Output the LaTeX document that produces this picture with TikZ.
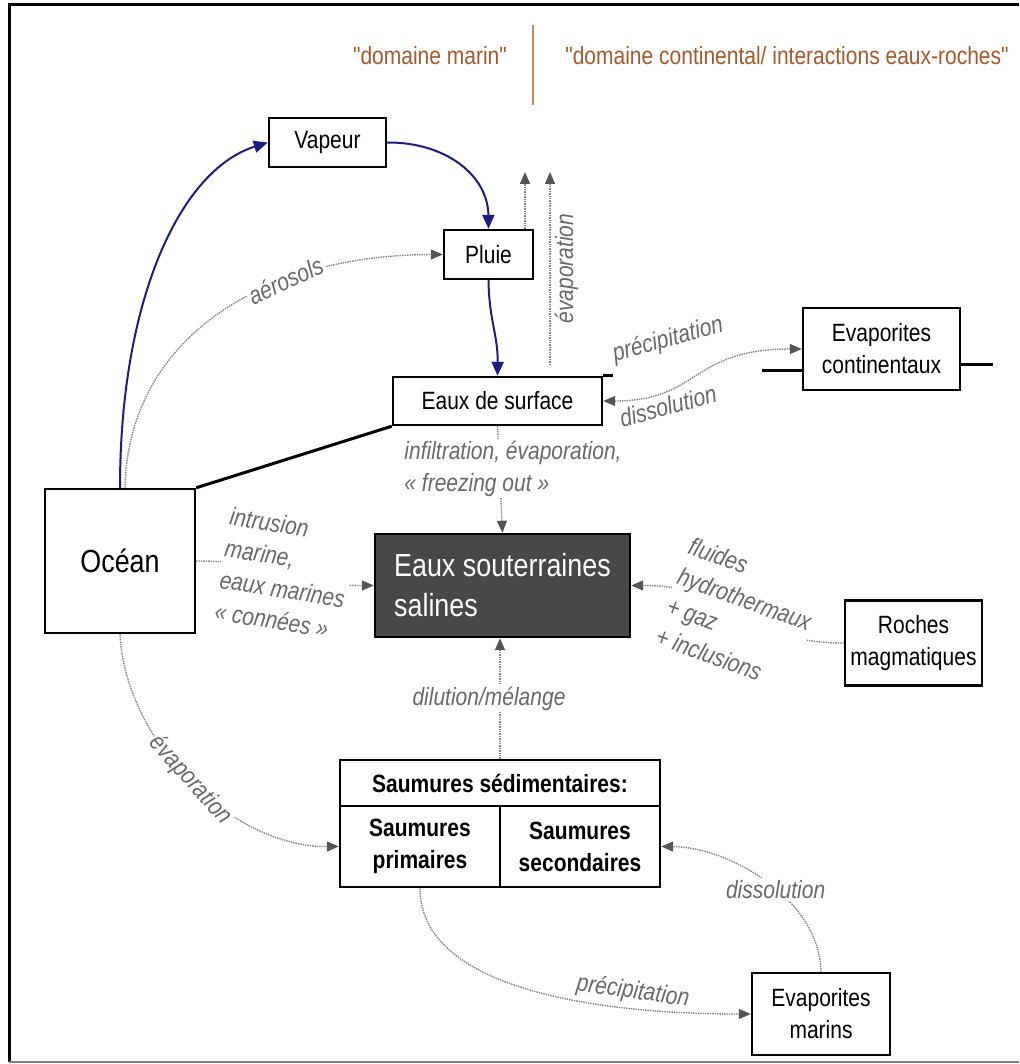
\documentclass[tikz,border=0pt]{standalone}
\usepackage{fontspec}
\setmainfont[FakeStretch=0.84]{Liberation Sans}
\newfontfamily\entete[FakeStretch=0.84]{Liberation Sans}
\usetikzlibrary{arrows.meta}

\definecolor{bleuflux}{RGB}{28,28,135}
\definecolor{grisflux}{RGB}{130,130,130}
\definecolor{grispointe}{RGB}{85,85,85}
\definecolor{grislabel}{RGB}{105,105,105}
\definecolor{brun}{RGB}{165,90,40}
\definecolor{brunclair}{RGB}{200,140,90}
\definecolor{fonce}{RGB}{72,72,72}

\newcommand\txtboite{\fontsize{25}{32}\selectfont}
\newcommand\txtlabel{\fontsize{25}{32}\selectfont\itshape}
\newcommand\txtgrand{\fontsize{32}{40}\selectfont}

\tikzset{
  tipgris/.tip={Triangle[length=12pt,width=10pt,color=grispointe]},
  tipbleu/.tip={Triangle[length=14pt,width=12pt]},
  boite/.style={draw=black, line width=2.4pt, fill=white, inner sep=0pt, align=center, font=\txtboite},
  boitegras/.style={boite, font=\txtboite\bfseries},
  domaine/.style={text=brun, font=\entete\txtboite},
  eau/.style={-tipbleu, draw=bleuflux, line width=2pt},
  flux/.style={-tipgris, draw=grisflux, line width=1.4pt, densely dotted},
  lbl/.style={font=\txtlabel, text=grislabel, fill=white, inner sep=2pt, align=left},
  sol/.style={line width=3pt, black},
}

\begin{document}
\begin{tikzpicture}[x=1pt, y=-1pt]
\useasboundingbox (0,0) rectangle (1019,1064);
\draw[line width=3pt] (9,1062) -- (9,5) -- (1019,5);
\draw[gray, line width=2pt] (9,1062) -- (1019,1062);

% en-tete
\node[domaine] (marin) at (430,56) {"domaine marin"};
\node[domaine] (conti) at (787,56) {"domaine continental/ interactions eaux-roches"};
\draw[brunclair, line width=1.6pt] (533,25) -- (533,105);

% boites
\node[boite, minimum width=117pt, minimum height=49pt] (vapeur) at (327.5,142.5) {Vapeur};
\node[boite, minimum width=89pt, minimum height=49pt] (pluie) at (488.5,254.5) {Pluie};
\node[boite, minimum width=209pt, minimum height=48pt] (surf) at (497.5,401) {Eaux de surface};
\node[boite, minimum width=157pt, minimum height=82pt] (evcont) at (881.5,349) {Evaporites\\continentaux};
\node[boite, minimum width=150pt, minimum height=144pt, font=\txtgrand] (ocean) at (120,561) {Océan};
\node[boite, fill=fonce, text=white, minimum width=255pt, minimum height=103pt, align=left, font=\txtgrand] (sout) at (502.5,585.5) {Eaux souterraines\\salines};
\node[boite, minimum width=137pt, minimum height=85pt] (roches) at (913.5,643) {Roches\\magmatiques};
\node[boitegras, minimum width=320pt, minimum height=46pt] (saum) at (500,783) {Saumures sédimentaires:};
\node[boitegras, minimum width=160pt, minimum height=81pt] (prim) at (420,846.5) {Saumures\\primaires};
\node[boitegras, minimum width=160pt, minimum height=81pt] (sec) at (580,846.5) {Saumures\\secondaires};
\node[boite, minimum width=138pt, minimum height=82pt] (evmar) at (821,1014) {Evaporites\\marins};

% surface du sol
\coordinate (solg) at (762,370);
\coordinate (sold) at (993,364);
\draw[sol] (ocean.north east) -- (surf.south west);
\draw[sol] (surf.north east) -- ++(10,0);
\draw[sol] (solg) -- (solg -| evcont.west);
\draw[sol] (sold) -- (sold -| evcont.east);

% cycle de l'eau
\draw[eau] (ocean.north) .. controls (120,300) and (180,170) .. (vapeur.west);
\draw[eau] (vapeur.east) .. controls (445,142) and (488,175) .. (pluie.north);
\draw[eau] (pluie.south) .. controls (489,320) and (498,335) .. (surf.north);

\draw[flux] ([xshift=5pt]ocean.north) .. controls (128,340) and (260,255) .. (pluie.west)
  node[lbl, pos=0.68, rotate=25] {aérosols};

\coordinate (evap1) at (525,172);
\coordinate (evap2) at (550,172);
\coordinate (evap2b) at (550,365);
\draw[flux] (pluie.north -| evap1) -- (evap1);
\draw[flux] (evap2b) -- (evap2)
  node[lbl, fill=none, midway, rotate=90, anchor=north, inner sep=4pt] {évaporation};

\draw[flux, tipgris-tipgris] (surf.east) .. controls (700,401) and (690,349) .. (evcont.west);
\node[lbl, fill=none, rotate=15] (precc) at (668,340) {précipitation};
\node[lbl, fill=none, rotate=15] (dissc) at (668,406) {dissolution};

\draw[flux] (surf.south) -- (sout.north)
  node[lbl, midway, xshift=13pt, yshift=11pt] {infiltration, évaporation,\\« freezing out »};

\draw[flux] (ocean.east) .. controls (285,561) and (285,585.5) .. (sout.west)
  node[lbl, midway, rotate=-9] {intrusion\\marine,\\eaux marines\\« connées »};

\draw[flux] (roches.west) .. controls (740,643) and (740,585.5) .. (sout.east)
  node[lbl, midway, rotate=-20] {fluides\\hydrothermaux\\+ gaz\\+ inclusions};

\draw[flux] (saum.north) -- (saum.north |- sout.south)
  node[lbl, midway, xshift=-11pt] {dilution/mélange};

\draw[flux] (ocean.south) .. controls (125,740) and (230,847) .. (prim.west)
  node[lbl, midway, rotate=-48] {évaporation};

\draw[flux] (prim.south) .. controls (420,990) and (600,1014) .. (evmar.west)
  node[lbl, fill=none, pos=0.74, above=2pt, rotate=-8] {précipitation};

\draw[flux] (evmar.north) .. controls (820,900) and (730,847) .. (sec.east)
  node[lbl, pos=0.45] {dissolution};
\end{tikzpicture}
\end{document}
